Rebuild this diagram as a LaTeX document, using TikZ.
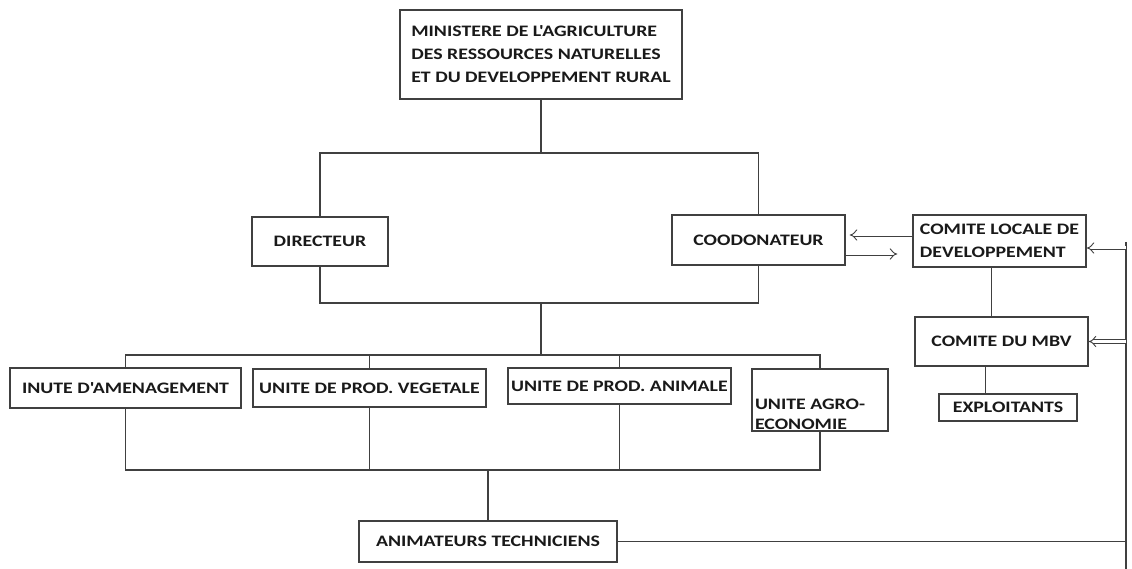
\documentclass[tikz,border=0pt]{standalone}
\usepackage{fontspec}
\newfontfamily\orgfont[FakeStretch=1.24]{Carlito}
\usetikzlibrary{arrows.meta}

\begin{document}
\begin{tikzpicture}[
                x=1pt, y=-1pt,
                line width=1.4pt,
                color=black!75,
                box/.style={draw, inner sep=0pt, align=left, text=black!90,
                    font=\orgfont\bfseries\fontsize{16}{23}\selectfont},
                link/.style={-{Implies}, double, double distance=3pt, line width=0.9pt}
                ]
                \useasboundingbox (0,0) rectangle (1132,569);
                % ministere et direction
                \node[box, minimum width=282pt, minimum height=89pt] (min) at (541,54.5)
                    {MINISTERE DE L'AGRICULTURE\\DES RESSOURCES NATURELLES\\ET DU DEVELOPPEMENT RURAL};
                \node[box, minimum width=136pt, minimum height=49pt] (dir) at (320,241.5) {DIRECTEUR};
                \node[box, minimum width=173pt, minimum height=50pt] (coo) at (758.5,240) {COODONATEUR};
                \node[box, minimum width=173pt, minimum height=52pt] (clocale) at (999.5,241)
                    {COMITE LOCALE DE\\DEVELOPPEMENT};
                \node[box, minimum width=173pt, minimum height=49pt] (mbv) at (1001.5,341.5) {COMITE DU MBV};
                \node[box, minimum width=138pt, minimum height=27pt] (expl) at (1008,407.5) {EXPLOITANTS};
                % unites
                \node[box, minimum width=231pt, minimum height=40pt] (inute) at (125.5,388) {INUTE D'AMENAGEMENT};
                \node[box, minimum width=233pt, minimum height=38pt] (veg) at (369.5,388) {UNITE DE PROD. VEGETALE};
                \node[box, minimum width=223pt, minimum height=36pt] (ani) at (619.5,386) {UNITE DE PROD. ANIMALE};
                \node[box, minimum width=136pt, minimum height=62pt] (agro) at (820,400) {};
                \node[box, draw=none, anchor=south west, font=\orgfont\bfseries\fontsize{16}{20}\selectfont]
                    (agrotxt) at ([shift={(3,-1)}]agro.south west) {UNITE AGRO-\\ECONOMIE};
                \node[box, minimum width=258pt, minimum height=41pt] (anim) at (488,541.5) {ANIMATEURS TECHNICIENS};

                \coordinate (jtop) at (min.south |- 0,153);
                \coordinate (jmid) at (min.south |- 0,303);
                \coordinate (jbar) at (min.south |- 0,355);
                \coordinate (jlow) at (anim.north |- 0,470);
                \coordinate (rtop) at (1126,242);
                \coordinate (rbot) at (1126,569);

                \draw (min.south) -- (jtop);
                \draw (dir.north) |- (jtop) -| (coo.north);
                \draw (dir.south) |- (jmid) -| (coo.south);
                \draw (jmid) -- (jbar);
                \draw (inute.north) |- (jbar) -| (agro.north);
                \draw (veg.north) -- (veg.north |- jbar);
                \draw (ani.north) -- (ani.north |- jbar);
                \draw (inute.south) |- (jlow) -| (agro.south);
                \draw (veg.south) -- (veg.south |- jlow);
                \draw (ani.south) -- (ani.south |- jlow);
                \draw (jlow) -- (anim.north);

                % comites
                \draw ([xshift=-8pt]clocale.south) -- ([xshift=-8pt]clocale.south |- mbv.north);
                \draw ([xshift=-16pt]mbv.south) -- ([xshift=-16pt]mbv.south |- expl.north);
                \draw[link, shorten >=4pt] ([yshift=6pt]clocale.west) -- ([yshift=6pt]clocale.west -| coo.east);
                \draw[link, shorten >=15pt] ([yshift=-14pt]coo.east) -- ([yshift=-14pt]coo.east -| clocale.west);
                \draw (rtop) -- (rbot);
                \draw (anim.east) -- (anim.east -| rtop);
                \draw[link] (rtop |- 0,248) -- (clocale.east |- 0,248);
                \draw[link] (mbv.east -| rtop) -- (mbv.east);
            \end{tikzpicture}
\end{document}
